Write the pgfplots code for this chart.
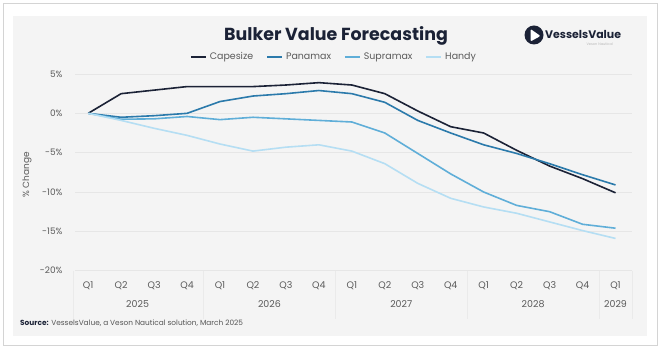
\documentclass[border=0pt]{standalone}
\usepackage{fontspec}
\setmainfont{Poppins}
\usepackage{pgfplots}
\pgfplotsset{compat=1.18}
\definecolor{cape}{HTML}{1B2236}
\definecolor{pana}{HTML}{2B7AAB}
\definecolor{supra}{HTML}{5FAED8}
\definecolor{handy}{HTML}{B5DEF3}
\definecolor{cardbg}{HTML}{F4F4F4}
\definecolor{gridc}{HTML}{E6E6E6}
\definecolor{sepc}{HTML}{EAEAEA}
\definecolor{txt}{HTML}{5A5A5A}
\definecolor{navy}{HTML}{1B2236}
\definecolor{frame}{HTML}{D4D4D4}
\definecolor{subt}{HTML}{B8B8B8}
\definecolor{srct}{HTML}{555555}
\begin{document}
\begin{tikzpicture}
\path (0bp,0bp) rectangle (660bp,351bp);
\draw[draw=frame, fill=white, line width=0.8bp] (3bp,6bp) rectangle (657bp,348bp);
\fill[cardbg] (13bp,15bp) rectangle (647bp,335bp);
% title
\node[font=\fontsize{17.5}{19}\selectfont\bfseries, text=navy] at (336bp,315bp) {Bulker Value Forecasting};
% logo
\fill[navy] (534bp,316bp) circle (9.5bp);
\fill[white, rounded corners=1.2bp] (530.5bp,322bp) -- (540.5bp,315bp) -- (530.5bp,309.5bp) -- cycle;
\node[anchor=west, font=\fontsize{11}{12}\selectfont\bfseries, text=navy, inner sep=0pt] at (545bp,316.5bp) {VesselsValue};
\node[anchor=east, font=\fontsize{3.5}{4}\selectfont, text=subt, inner sep=0pt] at (613bp,306.5bp) {Veson Nautical};
% source
\node[anchor=base west, font=\fontsize{7.4}{8}\selectfont, text=srct, inner sep=0pt] at (20bp,25.5bp) {\textbf{\color{navy}Source:} VesselsValue, a Veson Nautical solution, March 2025};
\begin{axis}[
  at={(75bp,80.3bp)}, anchor=south west,
  scale only axis, width=557bp, height=196.7bp,
  xmin=-0.4, xmax=16.5, ymin=-20, ymax=5,
  clip=false,
  axis line style={draw=none},
  tick style={draw=none},
  ymajorgrids, grid style={gridc, line width=0.8bp},
  ytick={-20,-15,-10,-5,0,5},
  yticklabels={-20\%,-15\%,-10\%,-5\%,0\%,5\%},
  yticklabel style={font=\fontsize{9}{10}\selectfont, text=txt, anchor=east, xshift=-9bp},
  xtick={0,...,16},
  xticklabels={Q1,Q2,Q3,Q4,Q1,Q2,Q3,Q4,Q1,Q2,Q3,Q4,Q1,Q2,Q3,Q4,Q1},
  xticklabel style={font=\fontsize{9.5}{10}\selectfont, text=txt, anchor=base, yshift=-17.5bp},
  ylabel={\% Change},
  ylabel style={at={(axis description cs:-0.0862,0.4866)}, anchor=center, font=\fontsize{9}{10}\selectfont, text=txt},
  legend columns=4,
  legend style={at={(0.465,1.0865)}, anchor=center, draw=none, fill=none,
    font=\fontsize{9.5}{10}\selectfont, text=txt, inner sep=0pt,
    /tikz/every even column/.append style={column sep=11bp},
    /tikz/every odd column/.append style={column sep=1bp}},
  legend image code/.code={\draw[#1, line width=1.8bp] (0bp,0bp) -- (15bp,0bp);},
  every axis plot/.append style={line width=1.6bp, line join=round},
]
\addplot[cape, mark=none] coordinates {(0,0) (1,2.5) (2,2.95) (3,3.4) (4,3.4) (5,3.4) (6,3.6) (7,3.9) (8,3.6) (9,2.5) (10,0.3) (11,-1.7) (12,-2.5) (13,-4.7) (14,-6.7) (15,-8.3) (16,-10.1)};
\addlegendentry{Capesize}
\addplot[pana, mark=none] coordinates {(0,0) (1,-0.5) (2,-0.3) (3,0) (4,1.5) (5,2.2) (6,2.5) (7,2.9) (8,2.5) (9,1.4) (10,-0.9) (11,-2.5) (12,-4.0) (13,-5.1) (14,-6.4) (15,-7.8) (16,-9.1)};
\addlegendentry{Panamax}
\addplot[supra, mark=none] coordinates {(0,0) (1,-0.75) (2,-0.7) (3,-0.4) (4,-0.8) (5,-0.5) (6,-0.7) (7,-0.9) (8,-1.1) (9,-2.5) (10,-5.1) (11,-7.7) (12,-10.0) (13,-11.7) (14,-12.5) (15,-14.1) (16,-14.6)};
\addlegendentry{Supramax}
\addplot[handy, mark=none] coordinates {(0,0) (1,-0.9) (2,-1.9) (3,-2.8) (4,-3.9) (5,-4.8) (6,-4.3) (7,-4.0) (8,-4.8) (9,-6.4) (10,-8.9) (11,-10.8) (12,-11.9) (13,-12.7) (14,-13.8) (15,-14.9) (16,-15.9)};
\addlegendentry{Handy}
% category table separators
\foreach \xx in {-0.45,3.5,7.5,11.5,15.5,16.5} {
  \edef\temp{\noexpand\draw[sepc, line width=0.7bp] (axis cs:\xx,-20) -- ++(0bp,-48bp);}
  \temp
}
\node[anchor=base, font=\fontsize{9.5}{10}\selectfont, text=txt] at ([yshift=-37bp]axis cs:1.5,-20) {2025};
\node[anchor=base, font=\fontsize{9.5}{10}\selectfont, text=txt] at ([yshift=-37bp]axis cs:5.5,-20) {2026};
\node[anchor=base, font=\fontsize{9.5}{10}\selectfont, text=txt] at ([yshift=-37bp]axis cs:9.5,-20) {2027};
\node[anchor=base, font=\fontsize{9.5}{10}\selectfont, text=txt] at ([yshift=-37bp]axis cs:13.5,-20) {2028};
\node[anchor=base, font=\fontsize{9.5}{10}\selectfont, text=txt] at ([yshift=-37bp]axis cs:16,-20) {2029};
\end{axis}
\end{tikzpicture}
\end{document}
